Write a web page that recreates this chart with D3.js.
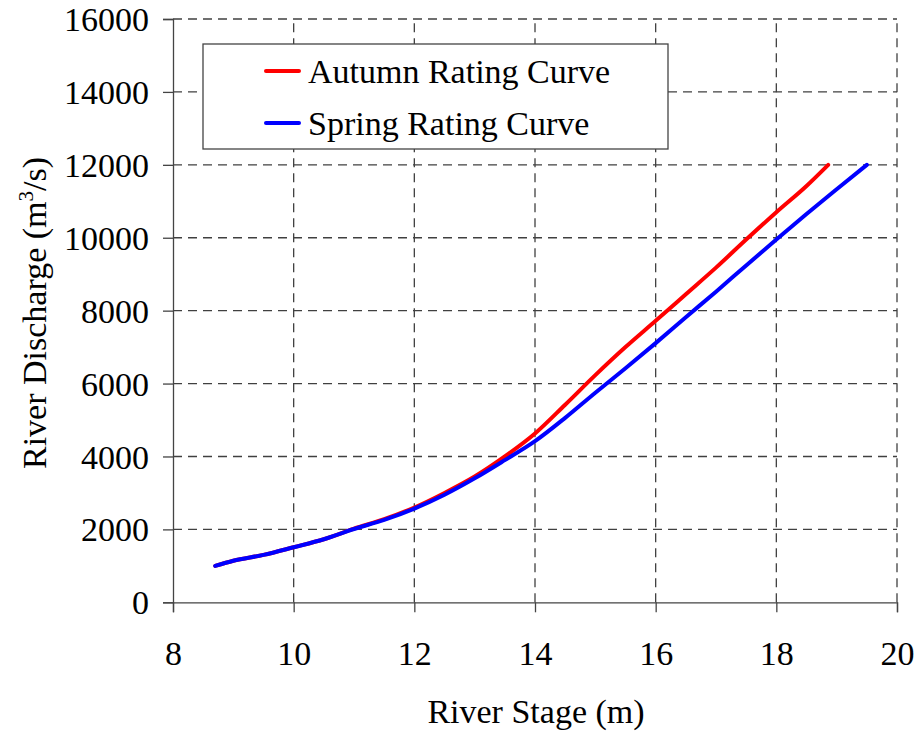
<!DOCTYPE html>
<html><head><meta charset="utf-8">
<script src="https://cdn.jsdelivr.net/npm/d3@7"></script>
<style>body{margin:0;background:#fff}svg{display:block}text{font-family:"Liberation Serif","Times New Roman",serif}</style>
</head><body><svg id="c" width="916" height="731"></svg>
<script>
const xTicks = [8,10,12,14,16,18,20];
const yTicks = [0,2000,4000,6000,8000,10000,12000,14000,16000];
const autumnStage = [8.7,9,9.5,10,10.5,11,11.5,12,12.5,13,13.5,14,14.5,15,15.5,16,16.5,17,17.5,18,18.5,18.86];
const autumnQ = [1000,1140,1300,1510,1730,2020,2280,2600,3000,3450,4000,4630,5420,6230,7000,7720,8450,9180,9950,10700,11420,12000];
const springStage = [8.7,9,9.5,10,10.5,11,11.5,12,12.5,13,13.5,14,14.5,15,15.5,16,16.5,17,17.5,18,18.5,19,19.5];
const springQ = [1000,1140,1300,1510,1730,2010,2260,2570,2950,3400,3900,4420,5060,5750,6420,7110,7820,8520,9240,9950,10650,11330,12000];
const seriesNames = ["Autumn Rating Curve","Spring Rating Curve"];
const colors = ["#ff0000","#0000ff"];

const svg = d3.select("#c");
const L=173,R=897,T=19,B=602.3;
const x = d3.scaleLinear().domain([8,20]).range([L,R]);
const y = d3.scaleLinear().domain([0,16000]).range([B,T]);
const gridColor="#404040";
const FS=34;
svg.append("g").selectAll("line").data(xTicks.filter(d=>d>8)).join("line")
 .attr("x1",d=>x(d)).attr("x2",d=>x(d)).attr("y1",B).attr("y2",T)
 .attr("stroke",gridColor).attr("stroke-width",1.3).attr("stroke-dasharray","9,6");
svg.append("g").selectAll("line").data(yTicks.filter(d=>d>0)).join("line")
 .attr("x1",L).attr("x2",R).attr("y1",d=>y(d)).attr("y2",d=>y(d))
 .attr("stroke",gridColor).attr("stroke-width",1.3).attr("stroke-dasharray","9,6");
const xa = svg.append("g").attr("transform",`translate(0,${B})`).call(d3.axisBottom(x).tickValues(xTicks).tickSizeOuter(0).tickSize(10).tickPadding(29));
const ya = svg.append("g").attr("transform",`translate(${L},0)`).call(d3.axisLeft(y).tickValues(yTicks).tickFormat(d3.format("d")).tickSizeOuter(0).tickSize(10).tickPadding(14));
[xa,ya].forEach(a=>{a.select(".domain").attr("stroke","#444").attr("stroke-width",1.3);
 a.selectAll(".tick line").attr("stroke","#444").attr("stroke-width",1.3);
 a.selectAll("text").attr("font-size",FS).attr("fill","#000").attr("font-family","Liberation Serif");});
xa.selectAll("text").attr("dy","0.71em");
ya.selectAll("text").attr("dy","0.34em");
const line = d3.line().x(d=>x(d[0])).y(d=>y(d[1])).curve(d3.curveMonotoneX);
const aData = autumnStage.map((s,i)=>[s,autumnQ[i]]);
const sData = springStage.map((s,i)=>[s,springQ[i]]);
[aData,sData].forEach((d,i)=>svg.append("path").datum(d).attr("d",line)
 .attr("fill","none").attr("stroke",colors[i]).attr("stroke-width",4).attr("stroke-linejoin","round").attr("stroke-linecap","round"));
const lg = svg.append("g");
lg.append("rect").attr("x",203).attr("y",44).attr("width",465).attr("height",105).attr("fill","#fff").attr("stroke","#444").attr("stroke-width",1.3);
seriesNames.forEach((n,i)=>{
 const yy = 71 + i*52;
 lg.append("line").attr("x1",266).attr("x2",299).attr("y1",yy).attr("y2",yy).attr("stroke",colors[i]).attr("stroke-width",4).attr("stroke-linecap","round");
 lg.append("text").attr("x",308).attr("y",yy).attr("dy","0.34em").attr("font-size",FS).text(n);
});
svg.append("text").attr("x",536).attr("y",723).attr("text-anchor","middle").attr("font-size",FS).text("River Stage (m)");
const yt = svg.append("text").attr("transform","translate(46,313) rotate(-90)").attr("text-anchor","middle").attr("font-size",FS);
yt.append("tspan").text("River Discharge (m");
yt.append("tspan").attr("font-size",21).attr("dy",-13).text("3");
yt.append("tspan").attr("dy",13).text("/s)");
</script></body></html>
